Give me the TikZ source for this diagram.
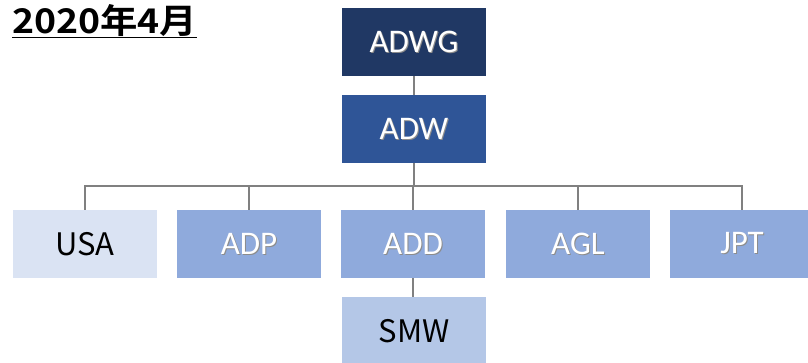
\documentclass[tikz,border=0pt]{standalone}
\usepackage{fontspec}
\setmainfont{Carlito}
\newfontfamily\jpfont{Noto Sans CJK JP}
\newfontfamily\jpbold{Noto Sans CJK JP Bold}
\definecolor{navy}{HTML}{203864}
\definecolor{blueA}{HTML}{2F5597}
\definecolor{blueB}{HTML}{8FAADC}
\definecolor{blueC}{HTML}{DAE3F3}
\definecolor{blueD}{HTML}{B4C7E7}
\definecolor{linegray}{HTML}{808080}
\newcommand\shtxt[1]{\rlap{\kern1pt\raisebox{-1pt}{\textcolor{black!45}{#1}}}\textcolor{white}{#1}}
\tikzset{
  orgbox/.style={rectangle, minimum width=144pt, minimum height=68pt, inner sep=0pt, draw=none},
  wbox/.style={orgbox, font=\fontsize{33}{35}\selectfont},
  kbox/.style={orgbox, font=\jpfont\fontsize{31}{33}\selectfont, text=black},
  conn/.style={draw=linegray, line width=1.6pt},
}
\begin{document}
\begin{tikzpicture}[x=1pt,y=-1pt]
\useasboundingbox (0,0) rectangle (808,362);
\begin{scope}
\clip (0,0) rectangle (808,362);
\node[wbox, fill=navy] (adwg) at (414,42) {\shtxt{ADWG}};
\node[wbox, fill=blueA] (adw) at (414,129) {\shtxt{ADW}};
\node[kbox, fill=blueC] (usa) at (85,244) {USA};
\node[wbox, fill=blueB] (adp) at (249,244) {\shtxt{ADP}};
\node[wbox, fill=blueB] (add) at (413,244) {\shtxt{ADD}};
\node[wbox, fill=blueB] (agl) at (578,244) {\shtxt{AGL}};
\node[wbox, fill=blueB] (jpt) at (742,244) {\shtxt{JPT}};
\node[kbox, fill=blueD] (smw) at (414,331) {SMW};
\coordinate (bus) at (414,186);
\draw[conn] (adwg.south) -- (adw.north);
\draw[conn] (adw.south) -- (bus);
\foreach \c in {usa,adp,add,agl,jpt} \draw[conn] (\c.north) |- (bus);
\draw[conn] (add.south) -- (add.south |- smw.north);
\node[anchor=base west, inner sep=0pt] (title) at (12,33)
  {\jpbold\fontsize{34}{36}\selectfont\scalebox{1.1}[1]{\underline{2020年4月}}};
\end{scope}
\end{tikzpicture}
\end{document}
